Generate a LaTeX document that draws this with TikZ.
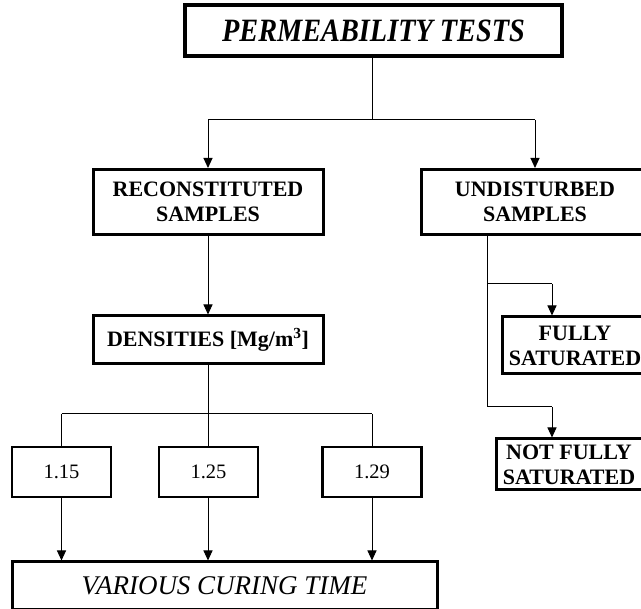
\documentclass[tikz,border=0pt]{standalone}
\usepackage{fontspec}
\usepackage{graphicx}
\setmainfont{Liberation Serif}
\usetikzlibrary{arrows.meta}
\tikzset{
  box/.style={draw, line width=3pt, inner sep=0pt, align=center, font=\bfseries\fontsize{22}{25}\selectfont},
  numbox/.style={draw, line width=2.5pt, inner sep=0pt, minimum width=99pt, minimum height=50pt, font=\fontsize{20.5}{24}\selectfont},
  conn/.style={line width=1pt},
  arr/.style={line width=1pt, -{Triangle[width=9pt,length=10pt]}}
}
\begin{document}
\begin{tikzpicture}[x=1pt,y=-1pt]
\useasboundingbox (0,0) rectangle (641,609);
\clip (0,0) rectangle (641,609);
% nodes
\node[box, line width=3.5pt, minimum width=377pt, minimum height=51pt, font=\bfseries\itshape\fontsize{28.3}{32}\selectfont] (top) at (373.5,30.5) {\scalebox{1}[1.15]{PERMEABILITY TESTS}};
\node[box, minimum width=230pt, minimum height=65pt] (recon) at (208,202) {RECONSTITUTED\\SAMPLES};
\node[box, minimum width=228pt, minimum height=65pt] (undist) at (535,202) {UNDISTURBED\\SAMPLES};
\node[box, minimum width=230pt, minimum height=48pt] (dens) at (208,340) {DENSITIES [Mg/m\textsuperscript{3}]};
\node[box, minimum width=146pt, minimum height=57pt] (fully) at (575,345.5) {FULLY\\SATURATED};
\node[box, minimum width=146pt, minimum height=51pt] (notfully) at (569,464.5) {NOT FULLY\\SATURATED};
\node[numbox] (d1) at (61.5,472) {1.15};
\node[numbox] (d2) at (208.5,472) {1.25};
\node[numbox] (d3) at (372,472) {1.29};
\node[draw, line width=3pt, minimum width=425pt, minimum height=48pt, inner sep=0pt, font=\itshape\fontsize{27}{30}\selectfont] (cure) at (224.5,586) {VARIOUS CURING TIME};
% coordinates
\coordinate (tj) at (372,120);
\coordinate (tl) at (208,120);
\coordinate (tr) at (535,120);
\coordinate (dj) at (208,414);
\coordinate (dl) at (61.5,414);
\coordinate (dr) at (372,414);
\coordinate (us) at (487,234);
\coordinate (u1) at (487,284);
\coordinate (u2) at (487,407);
\coordinate (f1) at (552,284);
\coordinate (f2) at (552,407);
% connectors
\draw[conn] (top.south -| tj) -- (tj);
\draw[conn] (tl) -- (tr);
\draw[arr] (tl) -- (recon.north -| tl);
\draw[arr] (tr) -- (undist.north -| tr);
\draw[arr] (recon.south) -- (dens.north);
\draw[conn] (dens.south) -- (dj);
\draw[conn] (dl) -- (dr);
\draw[conn] (dl) -- (d1.north);
\draw[conn] (dj) -- (d2.north -| dj);
\draw[conn] (dr) -- (d3.north);
\draw[arr] (d1.south) -- (cure.north -| d1.south);
\draw[arr] (d2.south -| dj) -- (cure.north -| dj);
\draw[arr] (d3.south) -- (cure.north -| d3.south);
\draw[conn] (us) -- (u2) -- (f2);
\draw[conn] (u1) -- (f1);
\draw[arr] (f1) -- (fully.north -| f1);
\draw[arr] (f2) -- (notfully.north -| f2);
\end{tikzpicture}
\end{document}
